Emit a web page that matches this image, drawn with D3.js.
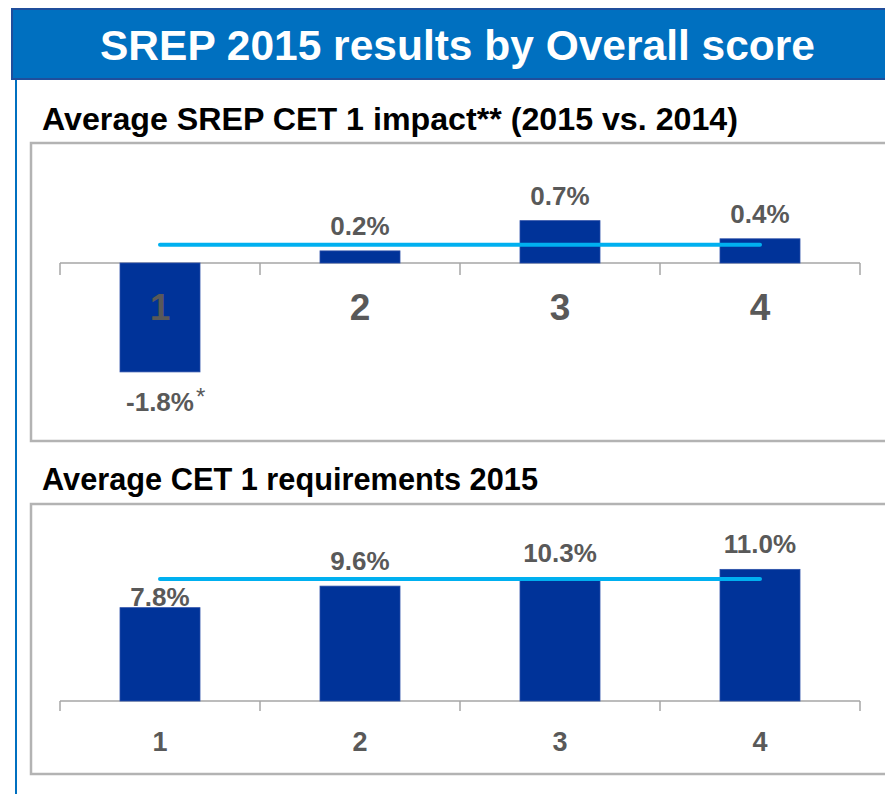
<!DOCTYPE html>
<html>
<head>
<meta charset="utf-8">
<script src="https://cdn.jsdelivr.net/npm/d3@7"></script>
<style>
  html, body { margin: 0; padding: 0; background: #fff; }
  svg { display: block; font-family: "Liberation Sans", Arial, sans-serif; }
</style>
</head>
<body>
<svg id="chart" width="885" height="794"></svg>
<script>
// Overall SREP score buckets
const scores = ["1", "2", "3", "4"];

// Average SREP CET 1 impact, 2015 vs. 2014 (percentage points)
const impactValues = [-1.8, 0.2, 0.7, 0.4];
const impactLabels = ["-1.8%", "0.2%", "0.7%", "0.4%"];
const impactAverage = 0.3;

// Average CET 1 requirements 2015 (%)
const requirementValues = [7.8, 9.6, 10.3, 11.0];
const requirementLabels = ["7.8%", "9.6%", "10.3%", "11.0%"];
const requirementAverage = 10.2;

const svg = d3.select("#chart");
const W = 885, H = 794;

const BAR = "#003399";
const AVG = "#00B0F0";
const GREY_TEXT = "#595959";
const AXIS = "#a6a6a6";

// Header band
svg.append("rect")
  .attr("x", 12).attr("y", 9).attr("width", W + 20).attr("height", 70)
  .attr("fill", "#0070C0").attr("stroke", "#1f4e9c").attr("stroke-width", 2);
svg.append("text")
  .attr("x", 100).attr("y", 60)
  .attr("fill", "#fff").attr("font-weight", "bold").attr("font-size", 42)
  .attr("textLength", 715).attr("lengthAdjust", "spacingAndGlyphs")
  .text("SREP 2015 results by Overall score");

// Left rule running down the page
svg.append("line")
  .attr("x1", 16).attr("x2", 16).attr("y1", 80).attr("y2", H)
  .attr("stroke", "#0070C0").attr("stroke-width", 2);

const x = d3.scaleBand().domain(scores).range([60, 860]).paddingInner(0.6).paddingOuter(0.3);

function panel(opts) {
  const g = svg.append("g");

  g.append("text")
    .attr("x", 42).attr("y", opts.titleY)
    .attr("fill", "#000").attr("font-weight", "bold").attr("font-size", 31)
    .attr("textLength", opts.titleWidth).attr("lengthAdjust", "spacingAndGlyphs")
    .text(opts.title);

  g.append("rect")
    .attr("x", 31).attr("y", opts.boxTop).attr("width", W + 20).attr("height", opts.boxBottom - opts.boxTop)
    .attr("fill", "#fff").attr("stroke", "#b3b3b3").attr("stroke-width", 2.5);

  const y = opts.y;
  const zero = y(0);

  // category axis with ticks between bars
  const axis = g.append("g");
  axis.append("line")
    .attr("x1", 60).attr("x2", 860).attr("y1", zero).attr("y2", zero)
    .attr("stroke", AXIS).attr("stroke-width", 1.5);
  const edges = scores.map(s => x(s) - x.step() * x.paddingInner() / 2).concat([860]);
  axis.selectAll("line.tick").data(edges).join("line")
    .attr("class", "tick")
    .attr("x1", d => d).attr("x2", d => d)
    .attr("y1", zero).attr("y2", zero + opts.tickLen)
    .attr("stroke", AXIS).attr("stroke-width", 1.5);

  // bars
  g.selectAll("rect.bar").data(opts.values).join("rect")
    .attr("class", "bar")
    .attr("x", (d, i) => x(scores[i]))
    .attr("width", x.bandwidth())
    .attr("y", d => Math.min(y(d), zero))
    .attr("height", d => Math.abs(y(d) - zero))
    .attr("fill", BAR).attr("stroke", "#2a4ea8").attr("stroke-width", 0.8);

  // average line from first to last bar centre
  const lineY = y(opts.average);
  g.append("line")
    .attr("x1", x(scores[0]) + x.bandwidth() / 2)
    .attr("x2", x(scores[scores.length - 1]) + x.bandwidth() / 2)
    .attr("y1", lineY).attr("y2", lineY)
    .attr("stroke", AVG).attr("stroke-width", 4).attr("stroke-linecap", "round");

  // category labels
  g.selectAll("text.cat").data(scores).join("text")
    .attr("class", "cat")
    .attr("x", d => x(d) + x.bandwidth() / 2)
    .attr("y", opts.catY)
    .attr("text-anchor", "middle")
    .attr("fill", GREY_TEXT).attr("font-weight", "bold").attr("font-size", opts.catSize)
    .text(d => d);

  // value labels
  const vl = g.selectAll("text.val").data(opts.values).join("text")
    .attr("class", "val")
    .attr("x", (d, i) => x(scores[i]) + x.bandwidth() / 2)
    .attr("y", d => {
      if (d < 0) return y(d) + 39;
      let base = y(d) - 16;
      // keep the label clear of the average line
      if (Math.abs(base - 10 - lineY) < 15) base = y(d) - 2;
      return base;
    })
    .attr("text-anchor", "middle")
    .attr("fill", GREY_TEXT).attr("font-weight", "bold").attr("font-size", 26)
    .text((d, i) => opts.labels[i]);

  if (opts.footnote) {
    const i = opts.values.findIndex(v => v < 0);
    const node = vl.filter((d, j) => j === i).node();
    const bb = node.getBBox();
    g.append("text")
      .attr("x", bb.x + bb.width + 2)
      .attr("y", y(opts.values[i]) + 33)
      .attr("fill", GREY_TEXT).attr("font-size", 24)
      .text(opts.footnote);
  }
}

panel({
  title: "Average SREP CET 1 impact** (2015 vs. 2014)",
  titleY: 130, titleWidth: 696,
  boxTop: 143, boxBottom: 441,
  y: d3.scaleLinear().domain([-2, 1]).range([263 + 121, 263 - 60.5]),
  values: impactValues, labels: impactLabels, average: impactAverage,
  tickLen: 12, catY: 320, catSize: 37,
  footnote: "*"
});

panel({
  title: "Average CET 1 requirements 2015",
  titleY: 490, titleWidth: 496,
  boxTop: 504, boxBottom: 774,
  y: d3.scaleLinear().domain([0, 12]).range([701, 701 - 143.6]),
  values: requirementValues, labels: requirementLabels, average: requirementAverage,
  tickLen: 10, catY: 751, catSize: 27
});
</script>
</body>
</html>
